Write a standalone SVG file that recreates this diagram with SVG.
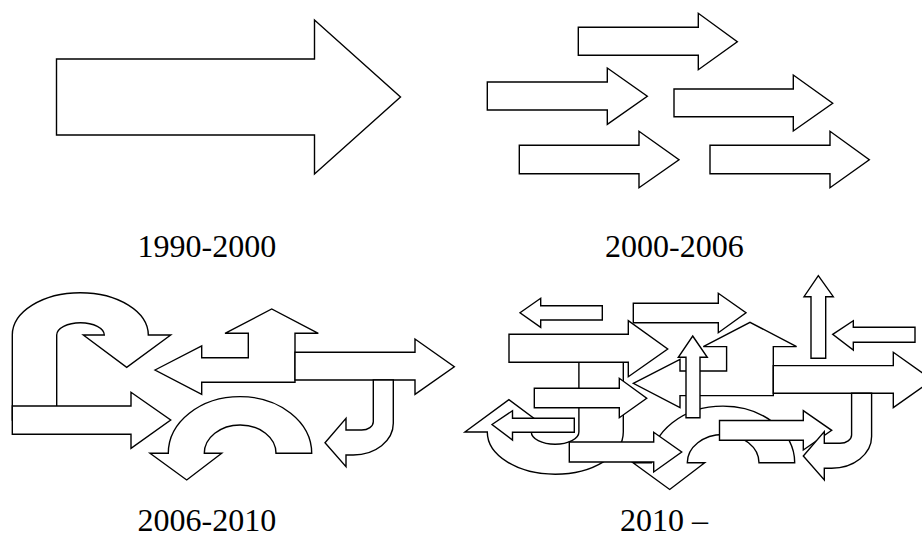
<svg xmlns="http://www.w3.org/2000/svg" xmlns:xlink="http://www.w3.org/1999/xlink" width="922" height="535" viewBox="0 0 922 535">
  <style>
    .a { fill: #ffffff; stroke: #000000; stroke-width: 1.4; stroke-linejoin: miter; }
    .lbl { font-family: "Liberation Serif", "Times New Roman", serif; font-size: 32px; fill: #000000; }
  </style>
  <defs>
    <!-- shapes reused by the last two panels -->
    <path id="uturn" class="a" d="M12.3,420 V335 A68,42.3 0 0 1 148.3,335 H170.7 L126.7,367.3 L83.3,335 H104.3 A23.8,12.3 0 0 0 56.7,335 V420 Z"/>
    <path id="tee" class="a" d="M155,370 L201.7,346 V357.7 H248.3 V333.3 H225 L271.7,309 L318.3,333.3 H295 V382.3 H201.7 V394.3 Z"/>
    <path id="longright" class="a" d="M295,352.3 H415 V339 L454.3,366.7 L415,394.3 V380 H295 Z"/>
    <path id="bend" class="a" d="M373.3,380 V421.7 A11.6,8.3 0 0 1 361.7,430 H346 V418.3 L325,442.7 L346,466.7 V455 H353.3 A40,31.7 0 0 0 393.3,423.3 V380 Z"/>
    <path id="arch" class="a" d="M311.7,453.3 A71.7,56.7 0 0 0 168.3,453.3 H150 L186.7,480 L221.7,453.3 H204.3 A35.8,28.3 0 0 1 276,453.3 Z"/>
  </defs>

  <rect width="922" height="535" fill="#ffffff"/>

  <!-- 1990-2000: one big arrow -->
  <g id="panel-1990">
    <path id="big-arrow" class="a" d="M56.5,59 H314.5 V20 L400.5,97 L314.5,174 V135 H56.5 Z"/>
    <text class="lbl" x="137.5" y="257">1990-2000</text>
  </g>

  <!-- 2000-2006: five parallel arrows -->
  <g id="panel-2000">
    <path id="p2-a1" class="a" d="M578.3,27.3 H698.3 V13.3 L737.3,41.7 L698.3,69.7 V55.3 H578.3 Z"/>
    <path id="p2-a2" class="a" d="M487.3,82 H607.3 V68 L647.3,96.3 L607.3,124.3 V110 H487.3 Z"/>
    <path id="p2-a3" class="a" d="M674,89 H793.3 V75 L832.7,103.3 L793.3,131 V116.7 H674 Z"/>
    <path id="p2-a4" class="a" d="M519.3,145.3 H639 V131.3 L679,159.7 L639,187.7 V173.7 H519.3 Z"/>
    <path id="p2-a5" class="a" d="M710,145.3 H830 V131.3 L869.3,159.7 L830,187.7 V173.7 H710 Z"/>
    <text class="lbl" x="605" y="257">2000-2006</text>
  </g>

  <!-- 2006-2010: turning and branching arrows -->
  <g id="panel-2006">
    <use id="p3-uturn" xlink:href="#uturn"/>
    <path id="p3-straight" class="a" d="M12.3,406 H131 V392.3 L170.7,420 L131,448.3 V434.3 H12.3 Z"/>
    <use id="p3-tee" xlink:href="#tee"/>
    <use id="p3-long" xlink:href="#longright"/>
    <use id="p3-bend" xlink:href="#bend"/>
    <use id="p3-arch" xlink:href="#arch"/>
    <text class="lbl" x="137.5" y="531">2006-2010</text>
  </g>

  <!-- 2010 onward: crowded mix of all arrow kinds -->
  <g id="panel-2010">
    <use id="p4-uturn" xlink:href="#uturn" transform="matrix(-1 0 0 -1 635.6 767)"/>
    <use id="p4-arch" xlink:href="#arch" transform="translate(483 9.5)"/>
    <path id="p4-c" class="a" d="M509,334.3 H628.3 V320.7 L667.7,349 L628.3,376.7 V362.3 H509 Z"/>
    <path id="p4-a" class="a" d="M520,312.7 L540.7,298.3 V305.7 H602.3 V320 H540.7 V327.3 Z"/>
    <path id="p4-b" class="a" d="M633.3,303.3 H718.3 V293.3 L746,312.7 L718.3,332.7 V322.7 H633.3 Z"/>
    <path id="p4-e" class="a" d="M534.3,388.3 H619.3 V378.3 L646.7,398.3 L619.3,417.7 V407.7 H534.3 Z"/>
    <path id="p4-f" class="a" d="M492,424.5 L512.5,410.7 V418.3 H574.3 V432.3 H512.5 V440 Z"/>
    <path id="p4-g" class="a" d="M569.3,442 H653.7 V432.3 L681.7,452 L653.7,472 V462 H569.3 Z"/>
    <use id="p4-tee" xlink:href="#tee" transform="translate(478.3 13.3)"/>
    <use id="p4-long" xlink:href="#longright" transform="translate(478.3 13.3)"/>
    <path id="p4-l" class="a" d="M692.7,336 L707.3,357.3 H700 V417.7 H686 V357.3 H678.3 Z"/>
    <path id="p4-m" class="a" d="M818.3,275.7 L833.3,296.7 H825.7 V358.3 H811 V296.7 H804 Z"/>
    <path id="p4-n" class="a" d="M832.7,334.3 L853.3,320.7 V327.3 H915 V342.3 H853.3 V350 Z"/>
    <path id="p4-o" class="a" d="M719.5,420.5 H803.3 V410.7 L831.7,430.3 L803.3,450 V440.3 H719.5 Z"/>
    <use id="p4-bend" xlink:href="#bend" transform="translate(478.3 13.3)"/>
    <text class="lbl" x="620" y="531">2010 –</text>
  </g>
</svg>
